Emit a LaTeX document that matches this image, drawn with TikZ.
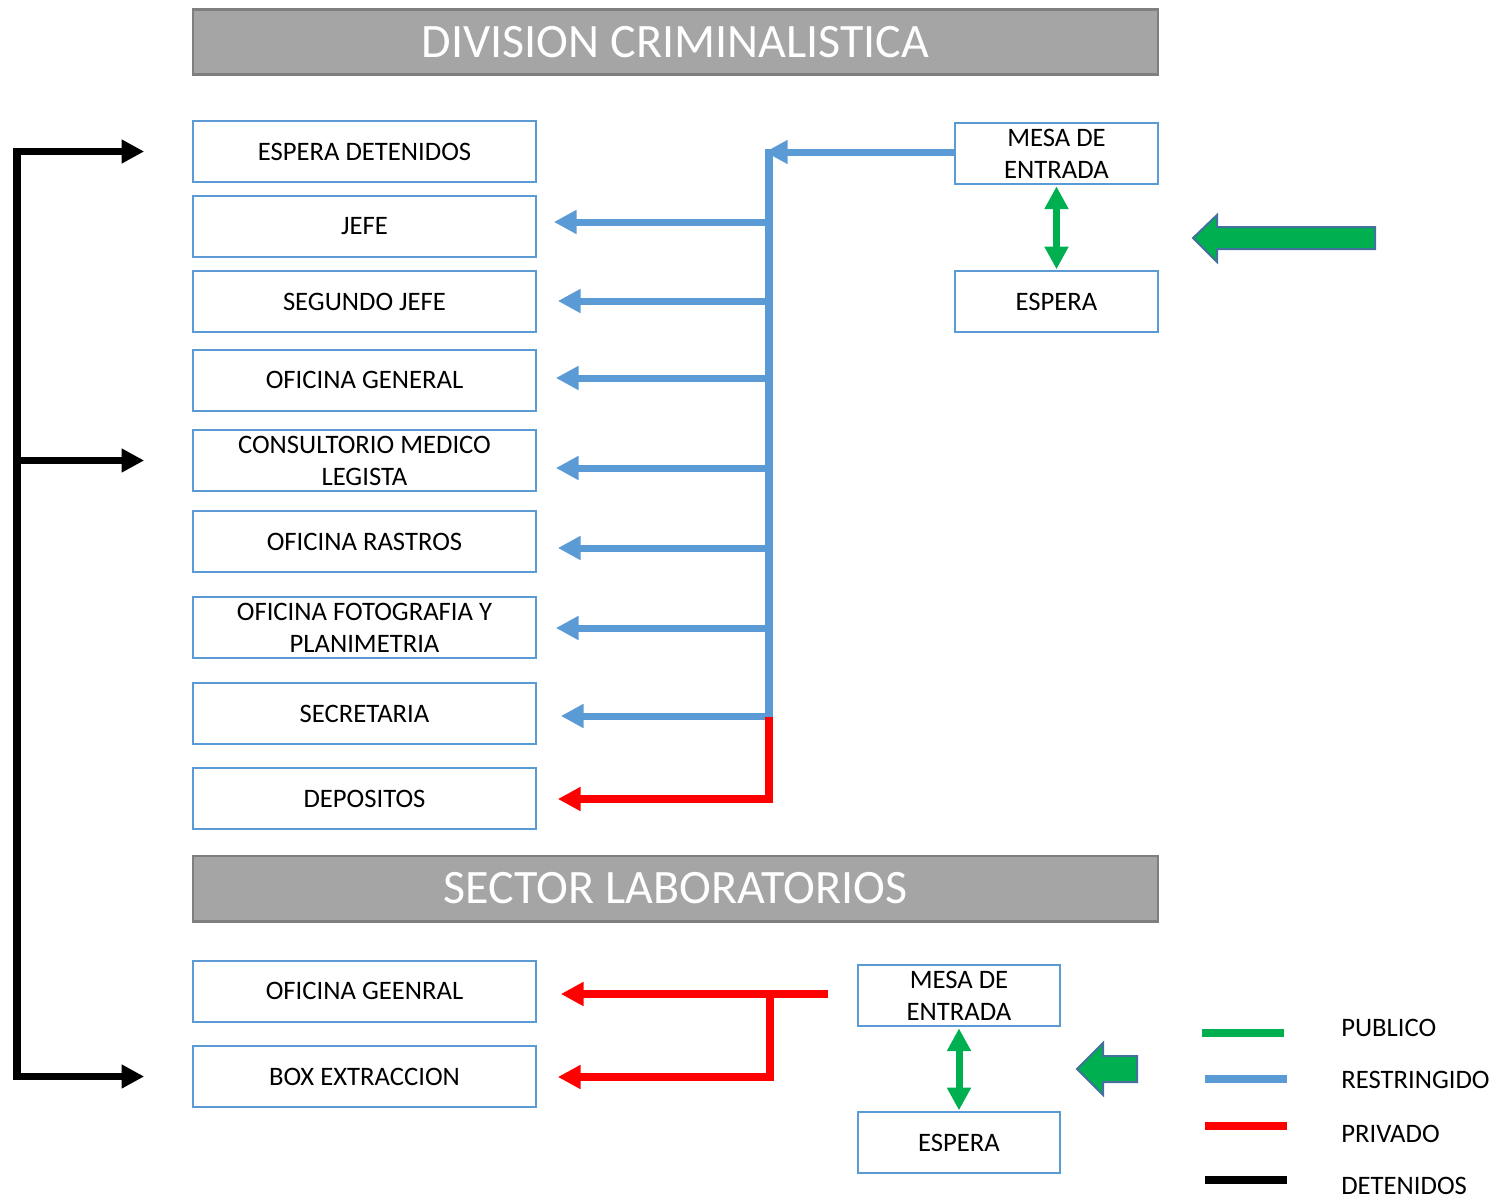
\documentclass[tikz,border=0pt]{standalone}
\usepackage{fontspec}
\setmainfont{Carlito}
\usetikzlibrary{arrows.meta}
\definecolor{boxblue}{HTML}{5B9BD5}
\definecolor{pubgreen}{HTML}{00B050}
\definecolor{privred}{HTML}{FF0000}
\definecolor{hdrgray}{HTML}{A5A5A5}
\definecolor{hdrline}{HTML}{7F7F7F}
\definecolor{shapeline}{HTML}{41719C}
\begin{document}
\begin{tikzpicture}[x=0.75pt,y=-0.75pt,
  htip/.tip={Triangle[length=17pt,width=17pt]},
  box/.style={draw=boxblue, line width=1.5pt, minimum width=257pt, minimum height=45.75pt,
    inner sep=0pt, align=center, font=\fontsize{20}{24}\selectfont},
  sbox/.style={box, minimum width=152pt},
  header/.style={draw=hdrline, fill=hdrgray, line width=2pt, minimum width=723.75pt,
    minimum height=49pt, inner sep=0pt, text=white, font=\fontsize{36}{42}\selectfont},
  restr/.style={draw=boxblue, line width=5.25pt, -{htip}},
  priv/.style={draw=privred, line width=5.5pt, -{htip}},
  det/.style={draw=black, line width=5.75pt, -{htip}},
  pub/.style={draw=pubgreen, line width=5.25pt, {htip}-{htip}},
  blockarrow/.style={fill=pubgreen, draw=shapeline, line width=1.5pt, line join=miter},
  legline/.style={line width=5.5pt},
  legtext/.style={anchor=base west, inner sep=0pt, font=\fontsize{20}{24}\selectfont}
]
\useasboundingbox (0,0) rectangle (1493,1199);

% headers
\node[header] (h1) at (675.5,42) {DIVISION CRIMINALISTICA};
\node[header] (h2) at (675.5,888.5) {SECTOR LABORATORIOS};

% left boxes
\node[box] (espdet) at (364.5,151.5) {ESPERA DETENIDOS};
\node[box] (jefe) at (364.5,226.5) {JEFE};
\node[box] (seg) at (364.5,301.5) {SEGUNDO JEFE};
\node[box] (ofgen) at (364.5,380) {OFICINA GENERAL};
\node[box] (cons) at (364.5,460.5) {CONSULTORIO MEDICO\\LEGISTA};
\node[box] (rastros) at (364.5,541.5) {OFICINA RASTROS};
\node[box] (foto) at (364.5,627.5) {OFICINA FOTOGRAFIA Y\\PLANIMETRIA};
\node[box] (secr) at (364.5,713.5) {SECRETARIA};
\node[box] (depo) at (364.5,798.5) {DEPOSITOS};
\node[box] (ofgeen) at (364.5,991) {OFICINA GEENRAL};
\node[box] (boxext) at (364.5,1076.5) {BOX EXTRACCION};

% right boxes
\node[sbox] (mesa1) at (1056.5,153.5) {MESA DE\\ENTRADA};
\node[sbox] (espera1) at (1056.5,301.5) {ESPERA};
\node[sbox] (mesa2) at (959,995.5) {MESA DE\\ENTRADA};
\node[sbox] (espera2) at (959,1142.5) {ESPERA};

% blue trunk and branches
\coordinate (ttop) at (769,148.5);
\coordinate (tbot) at (769,719);
\draw[draw=boxblue, line width=5.5pt] (ttop) -- (tbot);
\draw[restr] (mesa1.west |- 0,152) -- (765,152);
\draw[restr, shorten >=12.75pt] (ttop |- 0,222) -- (jefe.east |- 0,222);
\draw[restr, shorten >=15.75pt] (ttop |- 0,301) -- (seg.east |- 0,301);
\draw[restr, shorten >=14.25pt] (ttop |- 0,378) -- (ofgen.east |- 0,378);
\draw[restr, shorten >=14.25pt] (ttop |- 0,468) -- (cons.east |- 0,468);
\draw[restr, shorten >=15.75pt] (ttop |- 0,548) -- (rastros.east |- 0,548);
\draw[restr, shorten >=14.25pt] (ttop |- 0,628) -- (foto.east |- 0,628);
\draw[restr, shorten >=18pt] (ttop |- 0,716) -- (secr.east |- 0,716);

% red to depositos
\draw[priv, shorten >=15.75pt] (769,717) -- (769,799) -- (depo.east |- 0,799);

% red laboratory
\coordinate (rstart) at (828,994);
\draw[priv, shorten >=18pt] (rstart) -- (ofgeen.east |- rstart);
\draw[priv, shorten >=15.75pt] (770,991) -- (770,1077) -- (boxext.east |- 0,1077);

% black detenidos
\draw[det, {htip}-{htip}, shorten <=36pt, shorten >=36pt]
  (espdet.west) -- (17,151.5) -- (17,1076.5) -- (boxext.west);
\draw[det, shorten >=36pt] (17,460.5) -- (cons.west);

% green double arrows
\draw[pub, shorten <=1pt, shorten >=0.5pt] (mesa1.south) -- (espera1.north);
\draw[pub, shorten <=1pt, shorten >=0.5pt] (mesa2.south) -- (espera2.north);

% block arrows
\draw[blockarrow] (1193,238) -- (1217,215) -- (1217,227) -- (1375,227) -- (1375,249) -- (1217,249) -- (1217,262) -- cycle;
\draw[blockarrow] (1077,1069) -- (1103,1043) -- (1103,1056) -- (1137,1056) -- (1137,1082) -- (1103,1082) -- (1103,1095) -- cycle;

% legend
\draw[legline, draw=pubgreen] (1202,1033) -- (1284,1033);
\draw[legline, draw=boxblue] (1205,1079) -- (1287,1079);
\draw[legline, draw=privred] (1205,1126) -- (1287,1126);
\draw[legline, draw=black, line width=6pt] (1205,1180) -- (1287,1180);
\node[legtext] (lpub) at (1341,1036) {PUBLICO};
\node[legtext] (lres) at (1341,1088) {RESTRINGIDO};
\node[legtext] (lpriv) at (1341,1142) {PRIVADO};
\node[legtext] (ldet) at (1341,1194) {DETENIDOS};
\end{tikzpicture}
\end{document}
